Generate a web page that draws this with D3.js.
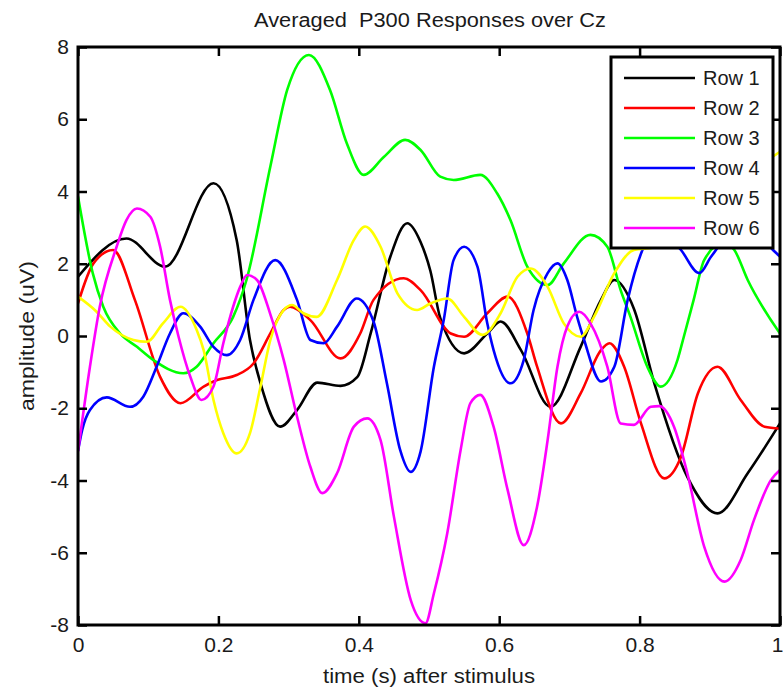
<!DOCTYPE html>
<html>
<head>
<meta charset="utf-8">
<script src="https://cdn.jsdelivr.net/npm/d3@7"></script>
<style>
  body { margin: 0; background: #fff; }
  svg text { font-family: "Liberation Sans", Arial, sans-serif; fill: #1a1a1a; }
</style>
</head>
<body>
<div id="container"></div>
<script>
// data: [time (s), amplitude (uV)]
const seriesNames = ["Row 1", "Row 2", "Row 3", "Row 4", "Row 5", "Row 6"];
const seriesColors = ["#000000", "#ff0000", "#00ff00", "#0000ff", "#ffff00", "#ff00ff"];

const row1 = [[0,1.64],[0.069,2.70],[0.124,1.92],[0.193,4.23],[0.226,2.66],[0.245,-0.11],[0.260,-1.31],
  [0.288,-2.51],[0.312,-2.05],[0.341,-1.29],[0.374,-1.38],[0.398,-1.13],[0.417,0.08],[0.445,2.2],[0.469,3.12],
  [0.488,2.6],[0.502,1.8],[0.516,0.5],[0.550,-0.48],[0.583,0.07],[0.602,0.40],[0.631,-0.39],[0.673,-1.96],
  [0.716,-0.3],[0.745,1.0],[0.764,1.55],[0.792,0.75],[0.821,-1.31],[0.868,-3.9],[0.911,-4.91],[0.954,-3.8],[1,-2.42]];

const row2 = [[0,0.9],[0.022,2.01],[0.050,2.38],[0.081,1.0],[0.117,-1.13],[0.146,-1.86],[0.179,-1.40],
  [0.198,-1.22],[0.226,-1.08],[0.250,-0.76],[0.274,0.07],[0.293,0.72],[0.302,0.81],[0.331,0.44],[0.374,-0.62],
  [0.402,0.07],[0.421,1.0],[0.464,1.6],[0.488,1.27],[0.531,0.07],[0.550,-0.02],[0.583,0.63],[0.612,1.09],
  [0.640,0.07],[0.654,-0.85],[0.688,-2.42],[0.716,-1.59],[0.745,-0.39],[0.757,-0.2],[0.778,-0.85],[0.802,-2.42],
  [0.835,-3.94],[0.859,-3.34],[0.883,-1.59],[0.911,-0.85],[0.944,-1.77],[0.978,-2.51],[1,-2.56]];

const row3 = [[0,3.86],[0.021,1.74],[0.036,0.81],[0.060,0.07],[0.084,-0.3],[0.107,-0.66],[0.150,-1.03],
  [0.169,-0.85],[0.193,-0.2],[0.221,0.53],[0.240,1.55],[0.274,4.69],[0.298,6.81],[0.329,7.78],[0.359,6.81],
  [0.383,5.33],[0.407,4.46],[0.436,4.96],[0.466,5.43],[0.488,5.15],[0.516,4.41],[0.535,4.32],[0.573,4.46],
  [0.597,3.95],[0.616,3.21],[0.640,1.92],[0.669,1.41],[0.692,2.01],[0.730,2.80],[0.754,2.47],[0.773,1.27],
  [0.787,0.53],[0.811,-0.85],[0.830,-1.40],[0.854,-0.66],[0.863,-0.02],[0.877,1.0],[0.892,2.1],[0.920,2.6],
  [0.935,2.38],[0.954,1.55],[1,0.07]];

const row4 = [[0,-3.18],[0.006,-2.6],[0.017,-2.05],[0.041,-1.70],[0.074,-1.96],[0.093,-1.68],[0.112,-0.85],
  [0.131,0.07],[0.150,0.63],[0.174,0.26],[0.193,-0.3],[0.212,-0.53],[0.231,-0.11],[0.250,1.0],[0.281,2.10],
  [0.312,1.0],[0.331,-0.11],[0.350,-0.2],[0.369,0.26],[0.397,1.04],[0.421,0.4],[0.440,-1.31],[0.459,-3.16],
  [0.474,-3.76],[0.488,-3.2],[0.507,-0.85],[0.521,0.44],[0.535,2.10],[0.550,2.47],[0.569,1.92],[0.583,0.35],
  [0.592,-0.39],[0.616,-1.31],[0.635,-0.66],[0.649,0.72],[0.669,1.74],[0.683,2.01],[0.697,1.55],[0.711,0.53],
  [0.721,-0.11],[0.745,-1.26],[0.764,-0.85],[0.783,1.0],[0.806,2.47],[0.830,3.0],[0.859,2.38],[0.885,1.74],
  [0.902,2.2],[0.950,3.2],[0.990,2.38],[1,2.2]];

const row5 = [[0,1.09],[0.025,0.7],[0.046,0.26],[0.079,-0.11],[0.098,-0.16],[0.121,0.35],[0.146,0.81],
  [0.169,0.17],[0.179,-0.39],[0.193,-1.77],[0.207,-2.69],[0.226,-3.25],[0.245,-2.69],[0.259,-1.49],[0.274,-0.11],
  [0.293,0.72],[0.305,0.86],[0.321,0.63],[0.340,0.53],[0.369,1.55],[0.393,2.66],[0.409,3.03],[0.431,2.47],
  [0.455,1.18],[0.483,0.72],[0.502,0.9],[0.526,1.04],[0.550,0.53],[0.576,0.03],[0.602,0.63],[0.626,1.64],
  [0.645,1.87],[0.669,1.36],[0.692,0.35],[0.716,-0.02],[0.735,0.53],[0.764,1.74],[0.792,2.38],[0.820,2.45],
  [0.860,2.9],[0.900,3.5],[0.950,4.4],[1,5.1]];

const row6 = [[0,-3.2],[0.017,-0.85],[0.031,0.81],[0.055,2.47],[0.069,3.21],[0.084,3.53],[0.103,3.30],
  [0.117,2.47],[0.131,1.0],[0.143,0],[0.160,-1.13],[0.176,-1.77],[0.193,-1.40],[0.207,-0.2],[0.221,0.81],
  [0.231,1.36],[0.241,1.69],[0.255,1.55],[0.274,0.6],[0.293,-0.66],[0.312,-2.23],[0.331,-3.62],[0.348,-4.35],
  [0.369,-3.80],[0.393,-2.51],[0.412,-2.28],[0.431,-2.88],[0.450,-5.0],[0.474,-7.31],[0.495,-7.95],[0.507,-7.12],
  [0.526,-5.46],[0.545,-3.16],[0.559,-1.86],[0.573,-1.63],[0.592,-2.51],[0.612,-4.26],[0.635,-5.79],[0.654,-4.72],
  [0.669,-2.88],[0.683,-0.85],[0.697,0.26],[0.714,0.67],[0.730,0.35],[0.754,-0.85],[0.773,-2.42],[0.792,-2.46],
  [0.816,-1.96],[0.828,-1.94],[0.849,-2.51],[0.868,-3.80],[0.892,-5.83],[0.921,-6.80],[0.944,-6.2],[0.963,-5.09],
  [0.987,-3.99],[1,-3.71]];

const seriesData = [row1, row2, row3, row4, row5, row6];

const xTicks = [0, 0.2, 0.4, 0.6, 0.8, 1];
const yTicks = [-8, -6, -4, -2, 0, 2, 4, 6, 8];

// layout
const w = 783, h = 691;
const m = { top: 47, right: 3, bottom: 66, left: 78 };
const pw = w - m.left - m.right, ph = h - m.top - m.bottom;

const svg = d3.select("#container").append("svg")
  .attr("width", w)
  .attr("height", h);

const x = d3.scaleLinear().domain([0, 1]).range([m.left, m.left + pw]);
const y = d3.scaleLinear().domain([-8, 8]).range([m.top + ph, m.top]);

const fmt = d => String(d);

// clip
svg.append("clipPath").attr("id", "clip")
  .append("rect")
  .attr("x", m.left).attr("y", m.top)
  .attr("width", pw).attr("height", ph);

// lines
const line = d3.line()
  .x(d => x(d[0]))
  .y(d => y(d[1]))
  .curve(d3.curveMonotoneX);

svg.append("g")
  .attr("clip-path", "url(#clip)")
  .selectAll("path")
  .data(seriesData)
  .enter()
  .append("path")
  .attr("d", line)
  .attr("fill", "none")
  .attr("stroke", (d, i) => seriesColors[i])
  .attr("stroke-width", 2.6)
  .attr("stroke-linejoin", "round");

// axes, ticks pointing inward
const styleAxis = g => {
  g.select(".domain").remove();
  g.selectAll(".tick line").attr("stroke", "#000").attr("stroke-width", 2.5);
  g.selectAll("text").attr("font-size", 21).attr("fill", "#1a1a1a")
    .style("font-family", '"Liberation Sans", Arial, sans-serif');
};

const xAxisG = svg.append("g")
  .attr("transform", `translate(0,${m.top + ph})`)
  .call(d3.axisBottom(x).tickValues(xTicks).tickFormat(fmt).tickSize(-9).tickPadding(12))
  .call(styleAxis);
// last label sits on the page edge, keep it inside
xAxisG.selectAll(".tick text").filter(d => d === 1)
  .attr("text-anchor", "end").attr("x", 3);

svg.append("g")
  .attr("transform", `translate(0,${m.top})`)
  .call(d3.axisTop(x).tickValues(xTicks).tickFormat("").tickSize(-9))
  .call(styleAxis);

svg.append("g")
  .attr("transform", `translate(${m.left},0)`)
  .call(d3.axisLeft(y).tickValues(yTicks).tickFormat(fmt).tickSize(-9).tickPadding(9))
  .call(styleAxis);

svg.append("g")
  .attr("transform", `translate(${m.left + pw},0)`)
  .call(d3.axisRight(y).tickValues(yTicks).tickFormat("").tickSize(-9))
  .call(styleAxis);

// plot box
svg.append("rect")
  .attr("x", m.left).attr("y", m.top)
  .attr("width", pw).attr("height", ph)
  .attr("fill", "none")
  .attr("stroke", "#000")
  .attr("stroke-width", 3);

// legend
const legend = svg.append("g").attr("transform", "translate(611,57)");
legend.append("rect")
  .attr("width", 162).attr("height", 191)
  .attr("fill", "#fff")
  .attr("stroke", "#000")
  .attr("stroke-width", 3);

const item = legend.selectAll(".item")
  .data(seriesNames)
  .enter()
  .append("g")
  .attr("transform", (d, i) => `translate(0,${21 + i * 30})`);

item.append("line")
  .attr("x1", 13).attr("x2", 84)
  .attr("stroke", (d, i) => seriesColors[i])
  .attr("stroke-width", 2.6);

item.append("text")
  .attr("x", 92).attr("y", 7)
  .attr("font-size", 20)
  .text(d => d);

// title
svg.append("text")
  .attr("x", 430).attr("y", 27)
  .attr("text-anchor", "middle")
  .attr("font-size", 20)
  .attr("textLength", 352)
  .attr("lengthAdjust", "spacingAndGlyphs")
  .style("white-space", "pre")
  .text("Averaged  P300 Responses over Cz");

// axis labels
svg.append("text")
  .attr("x", 429).attr("y", 683)
  .attr("text-anchor", "middle")
  .attr("font-size", 20)
  .attr("textLength", 212)
  .attr("lengthAdjust", "spacingAndGlyphs")
  .text("time (s) after stimulus");

svg.append("text")
  .attr("transform", "translate(34,336) rotate(-90)")
  .attr("text-anchor", "middle")
  .attr("font-size", 20)
  .attr("textLength", 150)
  .attr("lengthAdjust", "spacingAndGlyphs")
  .text("amplitude (uV)");
</script>
</body>
</html>
